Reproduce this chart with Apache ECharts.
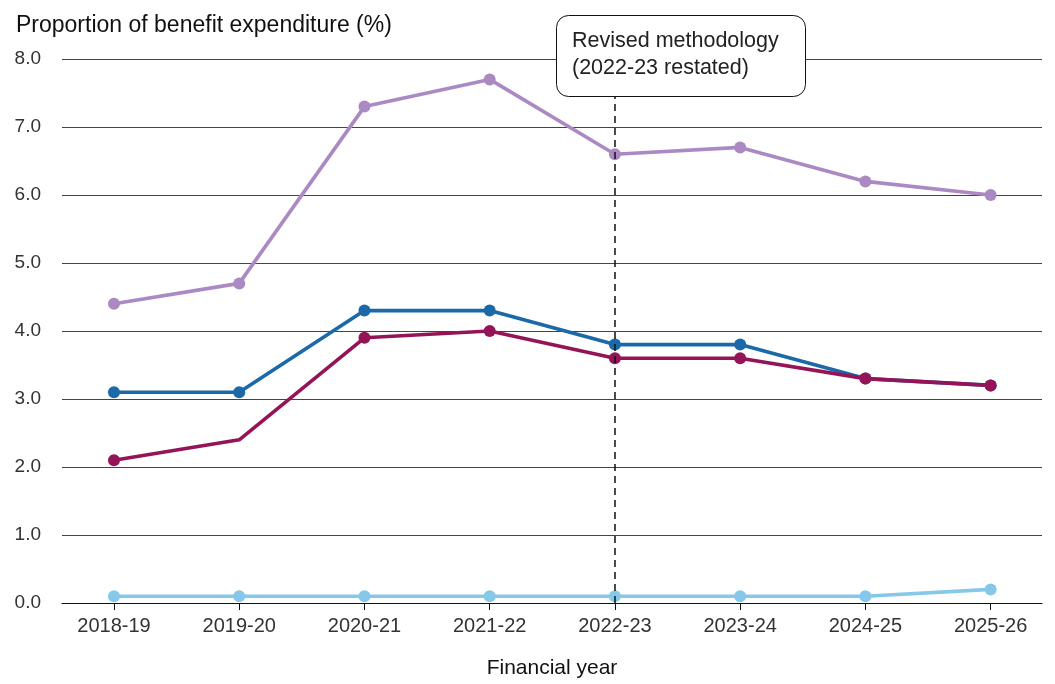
<!DOCTYPE html>
<html>
<head>
<meta charset="utf-8">
<script src="https://cdn.jsdelivr.net/npm/echarts@6/dist/echarts.min.js"></script>
<style>
  html, body { margin: 0; padding: 0; background: #fff; }
  #chart { width: 1055px; height: 684px; }
</style>
</head>
<body>
<div id="chart"></div>
<script>
// 数据
const years = ['2018-19', '2019-20', '2020-21', '2021-22', '2022-23', '2023-24', '2024-25', '2025-26'];
const lilac = [4.4, 4.7, 7.3, 7.7, 6.6, 6.7, 6.2, 6.0];
const blue = [3.1, 3.1, 4.3, 4.3, 3.8, 3.8, 3.3, 3.2];
const magenta = [2.1, 2.4, 3.9, 4.0, 3.6, 3.6, 3.3, 3.2];
const lightBlue = [0.1, 0.1, 0.1, 0.1, 0.1, 0.1, 0.1, 0.2];
const revisedYear = 4; // 2022-23
const noMarker = { magenta: [1] };

const font = 'Liberation Sans';
const chart = echarts.init(document.getElementById('chart'));

function pts(arr, hidden) {
    return arr.map(function (v, i) {
        const p = { value: [i, v] };
        if (hidden && hidden.indexOf(i) >= 0) p.symbol = 'none';
        return p;
    });
}

function lineSeries(name, arr, color, hidden) {
    return {
        name: name,
        type: 'line',
        z: 3,
        data: pts(arr, hidden),
        symbol: 'circle',
        symbolSize: 12,
        lineStyle: { color: color, width: 3.6 },
        itemStyle: { color: color },
        emphasis: { disabled: true }
    };
}

const option = {
    animation: false,
    title: {
        text: 'Proportion of benefit expenditure (%)',
        left: 11,
        top: 9,
        textStyle: { fontFamily: font, fontSize: 23, fontWeight: 'normal', color: '#111' }
    },
    grid: { left: 62, right: 13, top: 59, bottom: 78 },
    xAxis: {
        type: 'value',
        min: -0.415,
        max: 7.41,
        name: 'Financial year',
        nameLocation: 'middle',
        nameGap: 55,
        nameTextStyle: { fontFamily: font, fontSize: 21, color: '#111' },
        splitLine: { show: false },
        axisLine: { show: true, lineStyle: { color: '#111', width: 1 } },
        axisTick: { show: true, customValues: years.map(function (y, i) { return i; }), length: 7, lineStyle: { color: '#111' } },
        axisLabel: {
            customValues: years.map(function (y, i) { return i; }),
            formatter: function (v) { return years[Math.round(v)]; },
            fontFamily: font, fontSize: 20, color: '#333', margin: 13
        }
    },
    yAxis: {
        type: 'value',
        min: 0,
        max: 8,
        interval: 1,
        axisLine: { show: false },
        axisTick: { show: false },
        axisLabel: {
            formatter: function (v) { return v.toFixed(1); },
            fontFamily: font, fontSize: 19, color: '#333', margin: 21
        },
        splitLine: { lineStyle: { color: '#444', width: 1 } }
    },
    series: [
        {
            type: 'line',
            z: 1,
            data: [],
            markLine: {
                silent: true,
                symbol: 'none',
                label: { show: false },
                lineStyle: { color: '#111', type: [7, 5], width: 1.5 },
                data: [{ xAxis: revisedYear }]
            }
        },
        lineSeries('lilac', lilac, '#AB8AC3'),
        lineSeries('lightBlue', lightBlue, '#86C8EA'),
        lineSeries('blue', blue, '#1B69A8'),
        lineSeries('magenta', magenta, '#951457', noMarker.magenta)
    ],
    graphic: [
        {
            type: 'rect',
            left: 556,
            top: 15,
            z: 100,
            zlevel: 1,
            shape: { width: 249, height: 81, r: 12 },
            style: { fill: '#fff', stroke: '#111', lineWidth: 1 }
        },
        {
            type: 'text',
            left: 572,
            top: 28,
            z: 101,
            zlevel: 1,
            style: {
                text: 'Revised methodology\n(2022-23 restated)',
                font: '21.5px "Liberation Sans"',
                lineHeight: 27,
                fill: '#222'
            }
        }
    ]
};

chart.setOption(option);
window.addEventListener('resize', function () { chart.resize(); });
</script>
</body>
</html>
